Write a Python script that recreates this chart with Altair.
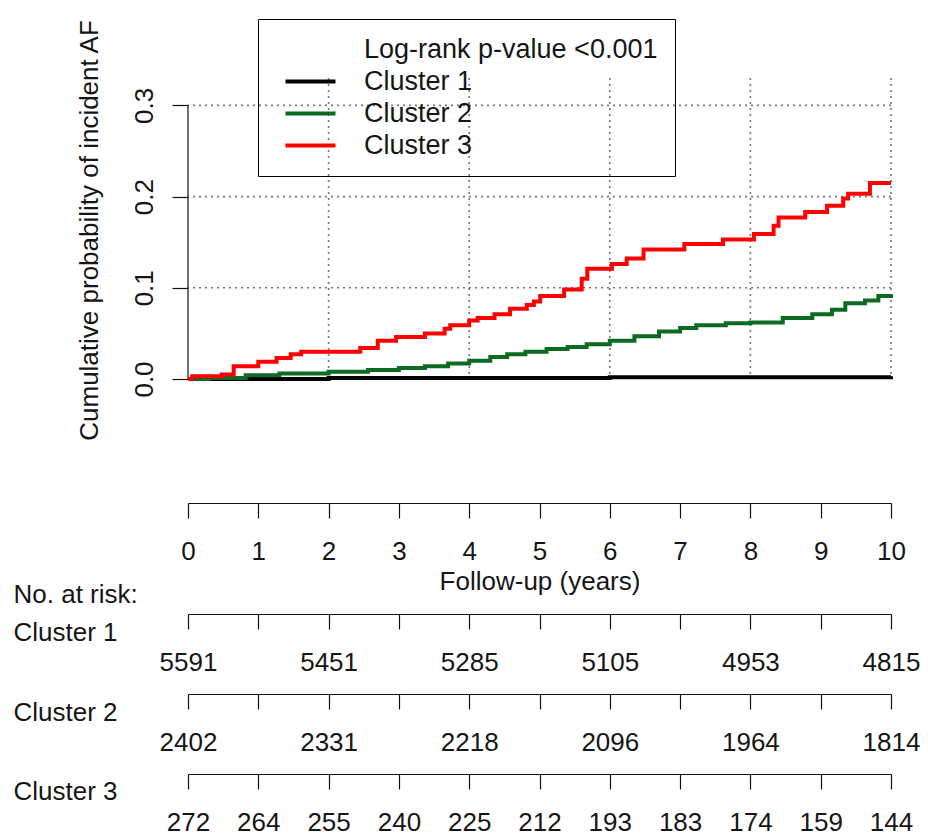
import altair as alt
import pandas as pd

# ---- data ----
series = ["Cluster 1", "Cluster 2", "Cluster 3"]
pv_label = "Log-rank p-value <0.001"

black_t = [0, 2, 4, 6, 8, 10]
black_p = [0, 0.001, 0.001, 0.002, 0.002, 0.003]

green_t = [0, 0.3, 0.82, 1.3, 2.0, 2.56, 3.0, 3.37, 3.7, 4.0, 4.3, 4.54, 4.8, 5.1, 5.4,
           5.67, 6.0, 6.35, 6.7, 7.0, 7.23, 7.65, 8.0, 8.46, 8.88, 9.16, 9.35, 9.63, 9.82, 10.0]
green_p = [0, 0.001, 0.004, 0.006, 0.008, 0.010, 0.012, 0.014, 0.017, 0.020, 0.024, 0.027,
           0.030, 0.033, 0.035, 0.038, 0.042, 0.047, 0.052, 0.056, 0.059, 0.061, 0.062, 0.067,
           0.071, 0.076, 0.083, 0.086, 0.091, 0.093]

red_t = [0, 0.06, 0.48, 0.65, 1.0, 1.26, 1.46, 1.61, 2.45, 2.70, 2.96, 3.37, 3.65, 3.73, 4.0,
         4.12, 4.36, 4.58, 4.82, 4.92, 5.01, 5.35, 5.60, 5.68, 6.03, 6.24, 6.48, 7.06, 7.61,
         8.05, 8.33, 8.40, 8.78, 9.09, 9.32, 9.39, 9.70, 10.0]
red_p = [0, 0.003, 0.005, 0.014, 0.019, 0.023, 0.027, 0.030, 0.034, 0.042, 0.046, 0.050, 0.055,
         0.059, 0.064, 0.067, 0.071, 0.077, 0.081, 0.085, 0.091, 0.098, 0.110, 0.121, 0.126,
         0.132, 0.142, 0.148, 0.153, 0.159, 0.168, 0.177, 0.183, 0.190, 0.198, 0.203, 0.215, 0.215]

x_ticks = list(range(11))
y_ticks = [0, 0.1, 0.2, 0.3]
grid_x = [2, 4, 6, 8, 10]
grid_y = [0.1, 0.2, 0.3]

risk_t12 = [0, 2, 4, 6, 8, 10]
risk_c1 = [5591, 5451, 5285, 5105, 4953, 4815]
risk_c2 = [2402, 2331, 2218, 2096, 1964, 1814]
risk_t3 = list(range(11))
risk_c3 = [272, 264, 255, 240, 225, 212, 193, 183, 174, 159, 144]

colors = ["transparent", "#000000", "#0b6b23", "#ff0000"]

# ---- tables ----
rows = []
for name, ts, ps in [("Cluster 1", black_t, black_p), ("Cluster 2", green_t, green_p),
                     ("Cluster 3", red_t, red_p)]:
    for t, p in zip(ts, ps):
        rows.append({"group": name, "time": t, "prob": p})
curves = pd.DataFrame(rows)

FS = 26
TXT = "#161616"
AX = "#111111"
W = 703

xs = alt.Scale(domain=[0, 10], nice=False, zero=False)
ys = alt.Scale(domain=[0, 0.33], nice=False, zero=False)

xax = alt.Axis(values=x_ticks, format="d", title="Follow-up (years)", offset=124,
               tickSize=15, labelPadding=41, labelBaseline="alphabetic", labelFontSize=FS,
               labelColor=TXT, titleFontSize=FS, titleFontWeight="normal", titleColor=TXT,
               titleY=86, titleBaseline="alphabetic", grid=False, domainColor=AX,
               tickColor=AX, domainWidth=1.2, tickWidth=1.2, labelFlush=False,
               labelOverlap=False)
yax = alt.Axis(values=y_ticks, format=".1f", title="Cumulative probability of incident AF",
               domain=False, tickSize=16, tickColor=AX, tickWidth=1.2, labelAngle=270,
               labelAlign="center", labelBaseline="alphabetic", labelPadding=20,
               labelFontSize=FS, labelColor=TXT, titleAngle=270, titleX=-91, titleY=152,
               titleAlign="center", titleBaseline="alphabetic", titleFontSize=FS,
               titleFontWeight="normal", titleColor=TXT, grid=False, labelFlush=False)

gx = alt.Chart(pd.DataFrame({"time": grid_x})).mark_rule(
    strokeDash=[2, 4], color="#777777", strokeWidth=1.6).encode(
    x=alt.X("time:Q", scale=xs, axis=xax))
gy = alt.Chart(pd.DataFrame({"prob": grid_y})).mark_rule(
    strokeDash=[2, 4], color="#777777", strokeWidth=1.6).encode(
    y=alt.Y("prob:Q", scale=ys, axis=yax))
yline = alt.Chart(pd.DataFrame({"a": [0], "b": [0.3], "time": [0]})).mark_rule(
    color=AX, strokeWidth=1.2).encode(
    x=alt.X("time:Q", scale=xs, axis=xax),
    y=alt.Y("a:Q", scale=ys, axis=yax), y2="b:Q")

legend = alt.Legend(title=None, orient="none", legendX=70, legendY=-59, direction="vertical",
                    symbolType="M-2.5,0H2.5", symbolSize=400, symbolStrokeWidth=4,
                    symbolOffset=22, labelOffset=40, padding=17, rowPadding=4,
                    labelFontSize=27, labelColor=TXT, labelLimit=0, strokeColor="#000000")

lines = alt.Chart(curves).mark_line(interpolate="step-after", strokeWidth=4).encode(
    x=alt.X("time:Q", scale=xs, axis=xax),
    y=alt.Y("prob:Q", scale=ys, axis=yax),
    color=alt.Color("group:N", scale=alt.Scale(domain=[pv_label] + series, range=colors),
                    legend=legend),
)

main = alt.layer(gx, gy, yline, lines).properties(width=W, height=301)


def risk_row(times, counts, title, height, title_y, line_h=None, lab_pad=41):
    labels = [""] * len(x_ticks)
    for t, c in zip(times, counts):
        labels[x_ticks.index(t)] = str(c)
    expr = "[" + ",".join("'%s'" % s for s in labels) + "][datum.value]"
    kw = dict(values=x_ticks, labelExpr=expr, tickSize=15, labelPadding=lab_pad,
              labelBaseline="alphabetic", labelFontSize=FS, labelColor=TXT, title=title,
              titleX=-175, titleY=title_y, titleAlign="left", titleAnchor="start",
              titleAngle=0, titleBaseline="alphabetic", titleFontSize=FS,
              titleFontWeight="normal", titleColor=TXT, labelFlush=False,
              labelOverlap=False, grid=False, domainColor=AX, tickColor=AX,
              domainWidth=1.2, tickWidth=1.2)
    if line_h:
        kw["titleLineHeight"] = line_h
    df = pd.DataFrame({"time": times, "n": counts})
    return alt.Chart(df).mark_point(opacity=0).encode(
        x=alt.X("time:Q", scale=xs, axis=alt.Axis(**kw))
    ).properties(width=W, height=height)


r1 = risk_row(risk_t12, risk_c1, ["No. at risk:", "Cluster 1"], 235, -12, 38)
r2 = risk_row(risk_t12, risk_c2, "Cluster 2", 80, 26)
r3 = risk_row(risk_t3, risk_c3, "Cluster 3", 80, 25, lab_pad=41)

chart = alt.vconcat(main, r1, r2, r3, spacing=0, bounds="flush").properties(
    padding={"left": 5, "top": 10, "right": 0, "bottom": 0}
).configure(font="Liberation Sans", view=alt.ViewConfig(stroke=None))

chart.save("out.html", embed_options={"renderer": "svg", "actions": False})
